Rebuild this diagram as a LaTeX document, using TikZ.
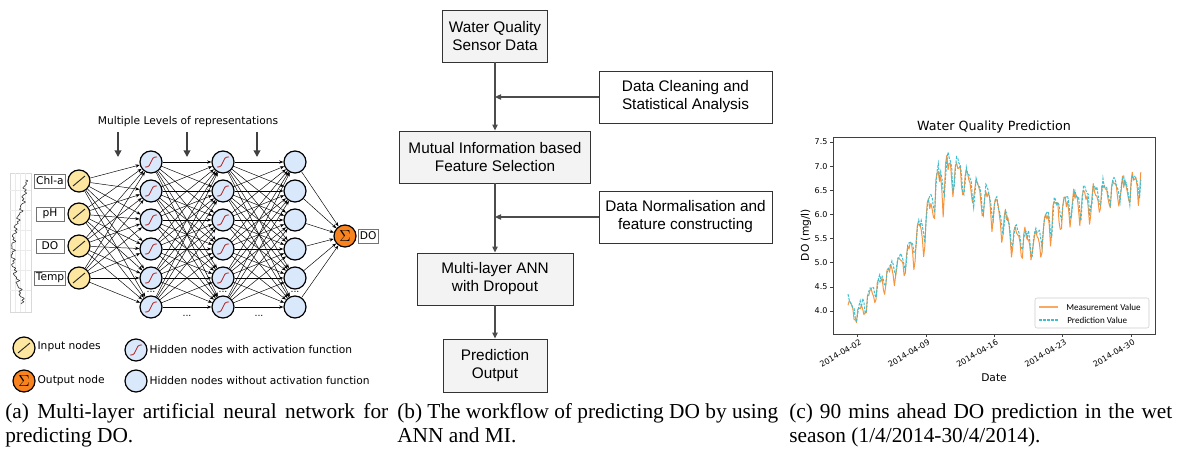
\documentclass[tikz,border=0pt]{standalone}
\usepackage{fontspec}
\setmainfont{Liberation Serif}
\newfontfamily\dvfont{DejaVu Sans}
\newfontfamily\arfont{Liberation Sans}
\newfontfamily\cbfont{Carlito}
\usetikzlibrary{arrows.meta}
\newlength\pxl \setlength\pxl{0.75pt}
\definecolor{inyel}{HTML}{FCE6A0}
\definecolor{hidblue}{HTML}{DAE8FC}
\definecolor{outor}{HTML}{F7821E}
\definecolor{boxgray}{HTML}{F3F3F3}
\definecolor{measc}{HTML}{F7943C}
\definecolor{predc}{HTML}{3DBFD0}
\definecolor{sigred}{HTML}{B22222}
\newcommand\dolist{0/4.05/3.90/0.18,1/3.90/4.20/0.18,2/4.20/4.45/0.15,3/4.45/4.70/0.18,4/4.70/4.90/0.2,5/4.90/5.10/0.22,6/5.10/5.40/0.3,7/5.40/5.80/0.34,8/5.80/6.50/0.38,9/6.50/6.80/0.4,10/6.80/6.90/0.38,11/6.90/6.70/0.32,12/6.70/6.45/0.28,13/6.45/6.30/0.28,14/6.30/6.10/0.28,15/6.10/5.80/0.3,16/5.80/5.50/0.28,17/5.50/5.45/0.25,18/5.45/5.40/0.22,19/5.40/5.60/0.25,20/5.60/6.00/0.32,21/6.00/6.10/0.3,22/6.10/6.20/0.3,23/6.20/6.25/0.3,24/6.25/6.30/0.3,25/6.30/6.40/0.28,26/6.40/6.45/0.28,27/6.45/6.50/0.25,28/6.50/6.55/0.25,29/6.55/6.70/0.27}
\begin{document}
\begin{tikzpicture}[x=0.75pt,y=-0.75pt,
  nn/.style={circle,draw=black,line width=0.9pt,minimum size=16.5pt,inner sep=0pt},
  innode/.style={nn,fill=inyel},
  hidnode/.style={nn,fill=hidblue},
  outnode/.style={nn,fill=outor},
  atxt/.style={font=\dvfont\fontsize{8}{9.5}\selectfont,inner sep=1pt},
  inlbl/.style={atxt,draw=black!55,line width=0.5pt,minimum width=21pt,minimum height=10.5pt,inner sep=1.2pt},
  conn/.style={line width=0.35pt,-{Stealth[length=3.2pt,width=2.4pt]}},
  slash/.style={line width=0.7pt,black!85},
  sig/.style={line width=0.6pt,sigred},
  dots/.style={font=\dvfont\fontsize{7}{8}\selectfont,inner sep=0pt},
  levarrow/.style={line width=1.5pt,black!75,-{Triangle[length=5pt,width=5pt]}},
  fbox/.style={draw=black!80,line width=0.7pt,align=center,font=\arfont\fontsize{11.5}{13.5}\selectfont,inner sep=0pt},
  graybox/.style={fbox,fill=boxgray},
  whitebox/.style={fbox,fill=white},
  flow/.style={line width=0.9pt,black!70,-{Triangle[length=4.5pt,width=4pt]}},
  capt/.style={font=\fontsize{16}{19}\selectfont,inner sep=0pt},
  tickl/.style={font=\dvfont\fontsize{6}{6.5}\selectfont,inner sep=1pt},
  axl/.style={font=\dvfont\fontsize{8}{9}\selectfont,inner sep=0pt},
  ttl/.style={font=\dvfont\fontsize{9.5}{11}\selectfont,inner sep=0pt},
  legt/.style={font=\cbfont\fontsize{6.8}{8}\selectfont,inner sep=0pt,anchor=west},
  measline/.style={draw=measc,line width=0.75pt,line join=round},
  predline/.style={draw=predc,line width=0.75pt,dash pattern=on 2pt off 1pt},
  measleg/.style={draw=measc!80,line width=1.3pt},
  predleg/.style={draw=predc,line width=1pt,dash pattern=on 2pt off 1pt}
]
\useasboundingbox (0,0) rectangle (1179,450);

% ---------- panel (a) ----------
\draw[black!15,fill=white,line width=0.4pt] (10,173) rectangle (31,312);
\foreach \gx in {15,20,25} \draw[black!8,line width=0.3pt] (\gx,173) -- (\gx,312);
\foreach \gy in {190,210,...,300} \draw[black!8,line width=0.3pt] (10,\gy) -- (31,\gy);
\draw[line width=0.45pt,black!80] plot[domain=0:124,samples=170,variable=\q]
  ({19+6.5*cos(2.5*\q)+1.4*sin(37*\q)+0.9*sin(83*\q+20)+0.6*sin(119*\q)},{180+\q});

\foreach \i/\y/\t in {1/181/Chl-a,2/214/pH,3/246/DO,4/278/Temp}{
  \node[inlbl] (lb\i) at (50,\y) {\t};
  \node[innode] (in\i) at (79,\y) {};
  \draw[slash] ({79-6},{\y+5}) -- ({79+6},{\y-5});
}
\foreach \L/\x in {1/151,2/223,3/295}
  \foreach \j/\y in {1/162,2/191,3/220,4/249,5/278,6/307}{
    \node[hidnode] (h\L-\j) at (\x,\y) {};
  }
\foreach \x in {151,223}
  \foreach \y in {162,191,220,249,278,307}{
    \draw[sig] ({\x-6},{\y+5}) .. controls ({\x+2},{\y+6}) and ({\x-2},{\y-6}) .. ({\x+6},{\y-5});
  }
\node[outnode] (out) at (345,236) {\fontsize{12}{12}\selectfont$\Sigma$};
\node[inlbl,minimum width=0pt,anchor=west] (dol) at (358,236) {DO};

\foreach \i in {1,...,4} \foreach \j in {1,...,6} \draw[conn] (in\i) -- (h1-\j);
\foreach \i in {1,...,6} \foreach \j in {1,...,6} {\draw[conn] (h1-\i) -- (h2-\j); \draw[conn] (h2-\i) -- (h3-\j);}
\foreach \i in {1,...,6} \draw[conn] (h3-\i) -- (out);

\foreach \L/\x in {1/151,2/223,3/295} \node[dots] (dc\L) at (\x,292) {...};
\node[dots] (db1) at (187,316) {...};
\node[dots] (db2) at (259,316) {...};

\node[atxt] (mlr) at (188,122) {Multiple Levels of representations};
\foreach \k/\x in {1/118,2/187,3/257}{
  \coordinate (as\k) at (\x,132);
  \coordinate (ae\k) at (\x,157);
  \draw[levarrow] (as\k) -- (ae\k);
}

% legend (a)
\node[innode] (lgin) at (24,348) {};
\draw[slash] (18,353) -- (30,343);
\node[atxt,anchor=west] (lgint) at (36,347) {Input nodes};
\node[outnode] (lgout) at (24,381) {\fontsize{12}{12}\selectfont$\Sigma$};
\node[atxt,anchor=west] (lgoutt) at (36,381) {Output node};
\node[hidnode] (lgh) at (136,350) {};
\draw[sig] (130,355) .. controls (138,356) and (134,344) .. (142,345);
\node[atxt,anchor=west] (lght) at (148,350) {Hidden nodes with activation function};
\node[hidnode] (lgh2) at (136,381) {};
\node[atxt,anchor=west] (lgh2t) at (148,381) {Hidden nodes without activation function};

% ---------- panel (b) ----------
\node[graybox,minimum width=105\pxl,minimum height=52\pxl] (wq) at (495,36) {Water Quality\\Sensor Data};
\node[whitebox,minimum width=173\pxl,minimum height=52\pxl] (dcl) at (685.5,97) {Data Cleaning and\\Statistical Analysis};
\node[graybox,minimum width=191\pxl,minimum height=52\pxl] (mi) at (495,157) {Mutual Information based\\Feature Selection};
\node[whitebox,minimum width=173\pxl,minimum height=52\pxl] (dn) at (685.5,217) {Data Normalisation and\\feature constructing};
\node[graybox,minimum width=156\pxl,minimum height=52\pxl] (ann) at (495,279) {Multi-layer ANN\\with Dropout};
\node[graybox,minimum width=104\pxl,minimum height=53\pxl] (po) at (495,365.5) {Prediction\\Output};
\coordinate (j1) at (495,97);
\coordinate (j2) at (495,217);
\draw[flow] (wq) -- (mi);
\draw[flow] (mi) -- (ann);
\draw[flow] (ann) -- (po);
\draw[flow] (dcl.west) -- (j1);
\draw[flow] (dn.west) -- (j2);

% ---------- panel (c) ----------
\node[ttl] (title) at (994,127) {Water Quality Prediction};
\pgfmathsetseed{42}
\begin{scope}
\clip (833,137) rectangle (1155,334);
\draw[measline] (848,{311-48.3*(4.05+0.18*0.45*sin(60)-4)})
  \foreach \dd/\va/\vb/\am in \dolist {
    \foreach \q in {0.125,0.25,...,1} {
      -- ({848+9.76*(\dd+\q)},{311-48.3*(\va+(\vb-\va)*\q+\am*(sin(360*\q)+0.45*sin(720*\q+60))*(1+0.35*rand)+0.08*rand-4)})
    }
  };
\draw[predline] (848,{311-48.3*(4.35-4)})
  \foreach \dd/\va/\vb/\am in \dolist {
    \foreach \q in {0.125,0.25,...,1} {
      -- ({848+9.76*(\dd+\q)},{311-48.3*(\va+0.07+(\vb-\va)*\q+0.85*\am*(sin(360*(\q-0.06))+0.45*sin(720*(\q-0.06)+60))*(1+0.3*rand)+0.07*rand-4)})
    }
  };
\end{scope}
\draw[black!75,line width=0.5pt] (833,137) rectangle (1155,334);
\foreach \v [count=\k] in {4.0,4.5,5.0,5.5,6.0,6.5,7.0,7.5}{
  \pgfmathsetmacro\yy{311-48.3*(\v-4)}
  \draw[black!75,line width=0.5pt] (830,\yy) -- (833,\yy);
  \node[tickl,anchor=east] (yt\k) at (829,\yy) {\v};
}
\foreach \lab [count=\k] in {02,09,16,23,30}{
  \pgfmathsetmacro\xx{848+9.76*(\k*7-6)}
  \draw[black!75,line width=0.5pt] (\xx,334) -- (\xx,337);
  \node[tickl,rotate=30,anchor=north east] (xt\k) at ({\xx+2},337) {2014-04-\lab};
}
\node[axl,rotate=90] (ylab) at (806,235) {DO (mg/l)};
\node[axl] (xlab) at (994,378) {Date};
\draw[black!20,fill=white,rounded corners=1.5pt,line width=0.4pt] (1035,298) rectangle (1149,328);
\coordinate (lm1) at (1039,307); \coordinate (lm2) at (1058,307);
\draw[measleg] (lm1) -- (lm2);
\node[legt] (lmt) at (1066,307) {Measurement Value};
\coordinate (lp1) at (1039,320); \coordinate (lp2) at (1058,320);
\draw[predleg] (lp1) -- (lp2);
\node[legt] (lpt) at (1067,320) {Prediction Value};

% ---------- captions ----------
\node[capt,anchor=base west] (ca1) at (5,418) {\makebox[383\pxl][s]{(a) Multi-layer artificial neural network for}};
\node[capt,anchor=base west] (ca2) at (5,442) {predicting DO.};
\node[capt,anchor=base west] (cb1) at (397,418) {\makebox[381\pxl][s]{(b) The workflow of predicting DO by using}};
\node[capt,anchor=base west] (cb2) at (397,442) {ANN and MI.};
\node[capt,anchor=base west] (cc1) at (789,418) {\makebox[383\pxl][s]{(c) 90 mins ahead DO prediction in the wet}};
\node[capt,anchor=base west] (cc2) at (789,442) {season (1/4/2014-30/4/2014).};
\end{tikzpicture}
\end{document}
